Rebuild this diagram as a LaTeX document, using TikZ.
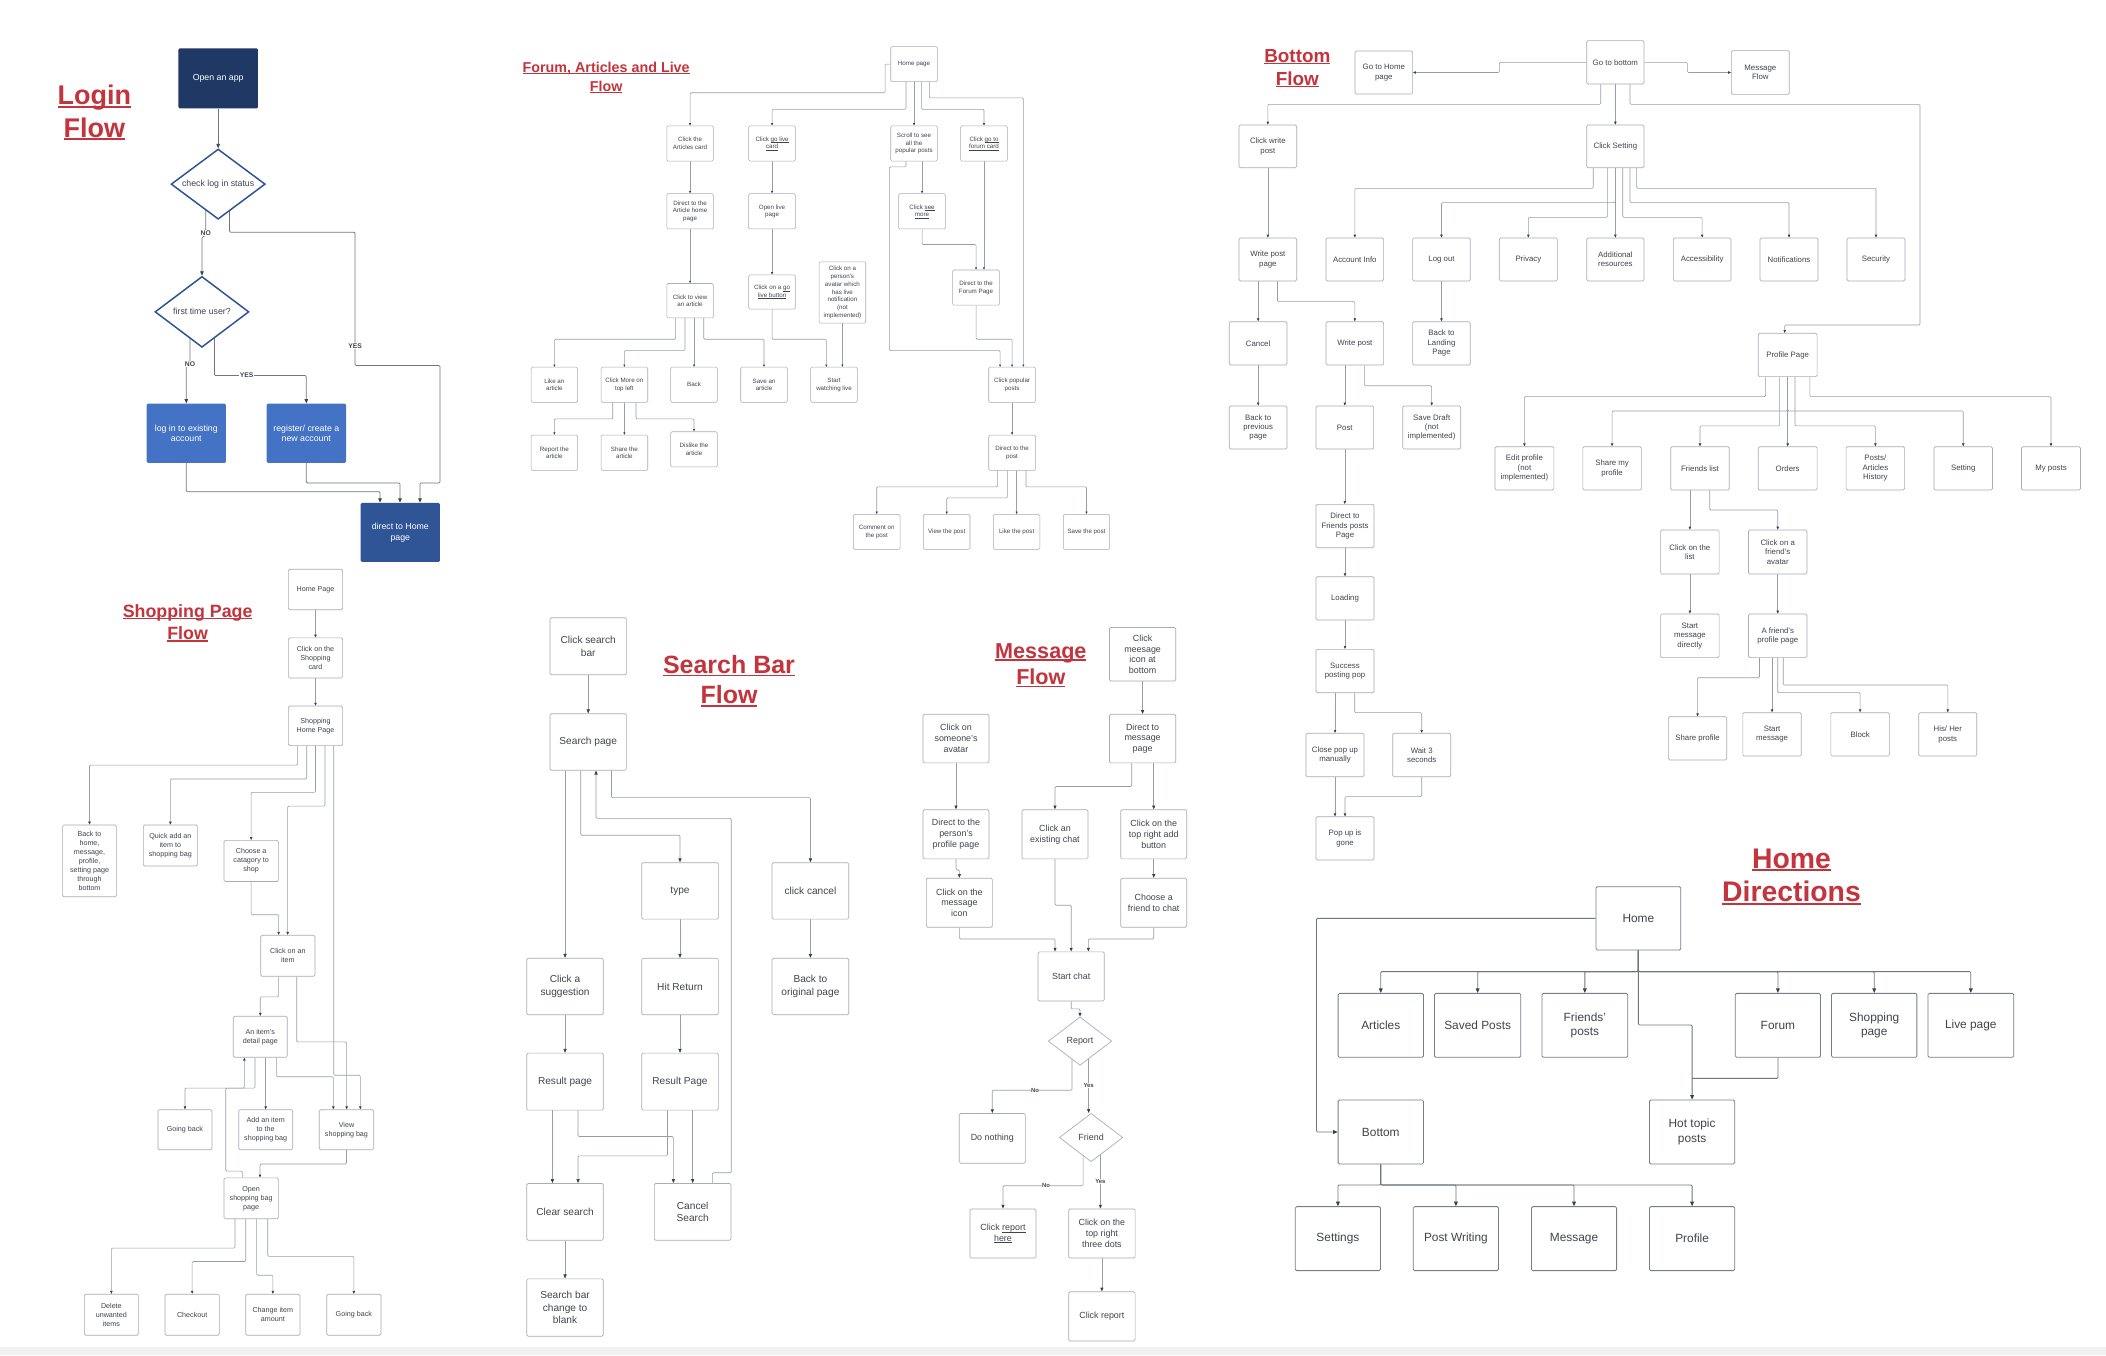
\documentclass[tikz,border=0pt]{standalone}
\usepackage{fontspec}
\setmainfont{Liberation Sans}
\usetikzlibrary{arrows.meta,shapes.geometric}
\pgfdeclarelayer{bg}
\pgfsetlayers{bg,main}
\definecolor{ttlc}{RGB}{196,52,60}
\definecolor{ln}{RGB}{152,158,168}
\definecolor{lnd}{RGB}{112,118,128}
\definecolor{bd}{RGB}{168,172,180}
\definecolor{hbd}{RGB}{120,126,136}
\definecolor{tx}{RGB}{64,68,76}
\definecolor{tipc}{RGB}{58,64,74}
\definecolor{navy}{RGB}{31,56,100}
\definecolor{mblue}{RGB}{68,114,196}
\definecolor{dblue}{RGB}{47,85,151}
\definecolor{dia}{RGB}{46,84,150}
\definecolor{strip}{RGB}{241,241,241}
\newcommand\tul[3]{\setbox0=\hbox{#3}\rlap{\rule[-#1]{\wd0}{#2}}\box0}
\newcommand\sul[1]{\tul{0.9pt}{0.3pt}{#1}}
\newcommand\BX[7]{\node[#1,minimum width={#5-#3},minimum height={#6-#4}] (#2) at ({(#3+#5)/2},{(#4+#6)/2}) {#7};}
\tikzset{
  bx/.style={draw=bd, fill=white, rounded corners=1pt, line width=0.5pt, inner sep=0pt, align=center, text=tx},
  fbx/.style={bx, line width=0.4pt, font=\fontsize{4.6}{5.7}\selectfont},
  bbx/.style={bx, font=\fontsize{5.8}{7}\selectfont},
  sbx/.style={bx, font=\fontsize{5.3}{6.6}\selectfont},
  qbx/.style={bx, font=\fontsize{7.5}{9.3}\selectfont},
  mbx/.style={bx, font=\fontsize{6.6}{8}\selectfont},
  hbx/.style={bx, draw=hbd, line width=0.6pt, font=\fontsize{8.8}{10.6}\selectfont},
  lbx/.style={rounded corners=1pt, inner sep=0pt, align=center, text=white, font=\fontsize{6.5}{8}\selectfont},
  ttl/.style={text=ttlc, align=center, inner sep=0pt},
  lab/.style={fill=white, inner sep=0.5pt, text=tx, font=\bfseries\fontsize{5}{6}\selectfont},
  mlab/.style={fill=white, inner sep=0.3pt, text=tx, font=\bfseries\fontsize{4.4}{5}\selectfont},
  cn/.style={draw=ln, line width=0.45pt, rounded corners=0.8pt},
  fa/.style={cn, -{Triangle[length=1.8pt,width=1.5pt,color=tipc]}},
  ba/.style={cn, -{Triangle[length=2.2pt,width=1.8pt,color=tipc]}},
  sa/.style={cn, -{Triangle[length=2.2pt,width=1.8pt,color=tipc]}},
  qa/.style={cn, line width=0.5pt, -{Triangle[length=3pt,width=2.4pt,color=tipc]}},
  ma/.style={cn, line width=0.5pt, -{Triangle[length=2.8pt,width=2.2pt,color=tipc]}},
  ha/.style={cn, draw=lnd, line width=0.6pt, -{Triangle[length=3.4pt,width=2.8pt,color=tipc]}},
  hl/.style={cn, draw=lnd, line width=0.6pt},
  la/.style={cn, draw=lnd, line width=0.55pt, -{Triangle[length=3.2pt,width=2.6pt,color=tipc]}},
}
\begin{document}
\begin{tikzpicture}[x=1pt,y=-1pt]
\useasboundingbox (0,0) rectangle (1560,1004);
\begin{pgfonlayer}{bg}
\fill[white] (0,0) rectangle (1560,1004);
\fill[strip] (0,998) rectangle (1560,1004);
\end{pgfonlayer}

% ---------------- titles
\node[ttl,font=\bfseries\fontsize{20}{24}\selectfont] (tlogin) at (69.9,83.5) {\tul{2.2pt}{1.5pt}{Login}\\\tul{2.2pt}{1.5pt}{Flow}};
\node[ttl,font=\bfseries\fontsize{10.6}{14}\selectfont] (tforum) at (449,57.4) {\tul{1.3pt}{0.8pt}{Forum, Articles and Live}\\\tul{1.3pt}{0.8pt}{Flow}};
\node[ttl,font=\bfseries\fontsize{14}{17}\selectfont] (tbottom) at (961,50.6) {\tul{1.6pt}{1pt}{Bottom}\\\tul{1.6pt}{1pt}{Flow}};
\node[ttl,font=\bfseries\fontsize{13.2}{16.5}\selectfont] (tshop) at (139,461.4) {\tul{1.5pt}{1pt}{Shopping Page}\\\tul{1.5pt}{1pt}{Flow}};
\node[ttl,font=\bfseries\fontsize{18.5}{22.5}\selectfont] (tsearch) at (540,504.5) {\tul{2pt}{1.3pt}{Search Bar}\\\tul{2pt}{1.3pt}{Flow}};
\node[ttl,font=\bfseries\fontsize{16}{19.6}\selectfont] (tmsg) at (771,492.8) {\tul{1.8pt}{1.2pt}{Message}\\\tul{1.8pt}{1.2pt}{Flow}};
\node[ttl,font=\bfseries\fontsize{21}{24.7}\selectfont] (thome) at (1327,649.4) {\tul{2.3pt}{1.5pt}{Home}\\\tul{2.3pt}{1.5pt}{Directions}};

% ---------------- login flow
\BX{lbx,fill=navy}{lopen}{132.1}{35.8}{191.1}{80.3}{Open an app}
\node[diamond, draw=dia, line width=1.1pt, fill=white, minimum width=69.8pt, minimum height=52pt, inner sep=0pt, aspect=1.34, text=tx, font=\fontsize{6.5}{8}\selectfont] (chk) at (161.6,136.4) {check log in status};
\node[diamond, draw=dia, line width=1.1pt, fill=white, minimum width=69.6pt, minimum height=52.5pt, inner sep=0pt, aspect=1.33, text=tx, font=\fontsize{6.5}{8}\selectfont] (ft) at (149.6,231) {first time user?};
\BX{lbx,fill=mblue}{llog}{108.6}{299}{167.4}{342.9}{log in to existing\\account}
\BX{lbx,fill=mblue}{lreg}{197.5}{299}{256.3}{342.9}{register/ create a\\new account}
\BX{lbx,fill=dblue}{lhome}{267.2}{372.5}{325.9}{416.2}{direct to Home\\page}
\node[lab] (no1) at (152.4,172.8) {NO};
\node[lab] (no2) at (140.7,269.4) {NO};
\node[lab] (yes1) at (263,256.4) {YES};
\node[lab] (yes2) at (182.7,278.2) {YES};

% ---------------- forum flow
\BX{fbx}{fhome}{659.8}{34.5}{694.3}{60.5}{Home page}
\BX{fbx}{fart}{493.9}{93.2}{528.4}{119.3}{Click the\\Articles card}
\BX{fbx}{flive}{554.6}{93.2}{589.2}{119.3}{Click \sul{go live}\\\sul{card}}
\BX{fbx}{fscroll}{659.8}{93.2}{694.3}{119.3}{Scroll to see\\all the\\popular posts}
\BX{fbx}{fforum}{711.6}{93.2}{746.2}{119.3}{Click \sul{go to}\\\sul{forum card}}
\BX{fbx}{fahome}{493.9}{143.5}{528.4}{169.6}{Direct to the\\Article home\\page}
\BX{fbx}{fopen}{554.6}{143.5}{589.2}{169.6}{Open live\\page}
\BX{fbx}{fsee}{665.7}{143.5}{700.3}{169.6}{Click \sul{see}\\\sul{more}}
\BX{fbx}{fview}{493.9}{210}{528.4}{235.5}{Click to view\\an article}
\BX{fbx}{fgolive}{554.6}{203.6}{589.2}{229}{Click on a \sul{go}\\\sul{live button}}
\BX{fbx}{favatar}{606.7}{193.9}{641.3}{239.3}{Click on a\\person's\\avatar which\\has live\\notification\\(not\\implemented)}
\BX{fbx}{fdforum}{705.7}{200}{740.3}{226}{Direct to the\\Forum Page}
\BX{fbx}{flike}{393.4}{272}{427.9}{298}{Like an\\article}
\BX{fbx}{fmore}{445.2}{272}{479.8}{298}{Click More on\\top left}
\BX{fbx}{fback}{496.8}{272}{531.4}{298}{Back}
\BX{fbx}{fsave}{548.7}{272}{583.2}{298}{Save an\\article}
\BX{fbx}{fwatch}{600.5}{272}{635.1}{298}{Start\\watching live}
\BX{fbx}{fpop}{732.4}{272}{767}{298}{Click popular\\posts}
\BX{fbx}{freport}{393.4}{322.3}{427.9}{348.4}{Report the\\article}
\BX{fbx}{fshare}{445.2}{322.3}{479.8}{348.4}{Share the\\article}
\BX{fbx}{fdislike}{496.8}{319.8}{531.4}{345.8}{Dislike the\\article}
\BX{fbx}{fpost}{732.4}{322.3}{767}{348.4}{Direct to the\\post}
\BX{fbx}{fcomm}{632.1}{381}{666.7}{407}{Comment on\\the post}
\BX{fbx}{fvpost}{684}{381}{718.5}{407}{View the post}
\BX{fbx}{flpost}{735.8}{381}{770.3}{407}{Like the post}
\BX{fbx}{fspost}{787.6}{381}{822}{407}{Save the post}

% ---------------- bottom flow
\BX{bbx}{bhome}{1003.7}{37.8}{1046.4}{69.6}{Go to Home\\page}
\BX{bbx}{bbot}{1175.3}{30.1}{1217.8}{62.2}{Go to bottom}
\BX{bbx}{bmsg}{1282.5}{37.5}{1325.4}{69.9}{Message\\Flow}
\BX{bbx}{bwrite}{917.8}{92.6}{960.5}{124.2}{Click write\\post}
\BX{bbx}{bset}{1175.3}{92.6}{1217.8}{124.2}{Click Setting}
\BX{bbx}{bwpp}{917.8}{176.3}{960.5}{208.1}{Write post\\page}
\BX{bbx}{bacc}{982.2}{176.3}{1024.9}{208.1}{Account Info}
\BX{bbx}{blog}{1046.4}{176.3}{1089.1}{208.1}{Log out}
\BX{bbx}{bpriv}{1110.6}{176.3}{1153.6}{208.1}{Privacy}
\BX{bbx}{badd}{1175.3}{176.3}{1217.8}{208.1}{Additional\\resources}
\BX{bbx}{bacs}{1239.5}{176.3}{1282.2}{208.1}{Accessibility}
\BX{bbx}{bnot}{1303.7}{176.3}{1346.7}{208.1}{Notifications}
\BX{bbx}{bsec}{1368.1}{176.3}{1411.1}{208.1}{Security}
\BX{bbx}{bcan}{910.6}{238.3}{953.3}{270.4}{Cancel}
\BX{bbx}{bwp}{982.2}{238.3}{1024.9}{270.4}{Write post}
\BX{bbx}{bland}{1046.4}{238.3}{1089.1}{270.4}{Back to\\Landing\\Page}
\BX{bbx}{bprev}{910.6}{300.7}{953.3}{332.6}{Back to\\previous\\page}
\BX{bbx}{bpost}{974.8}{300.7}{1017.5}{332.6}{Post}
\BX{bbx}{bdraft}{1039}{300.7}{1082}{332.6}{Save Draft\\(not\\implemented)}
\BX{bbx}{bdir}{974.8}{373.6}{1017.8}{405.7}{Direct to\\Friends posts\\Page}
\BX{bbx}{bload}{974.8}{427.2}{1017.8}{459.3}{Loading}
\BX{bbx}{bsucc}{974.8}{481}{1017.8}{513.1}{Success\\posting pop}
\BX{bbx}{bclose}{967.4}{543.2}{1010.4}{575.3}{Close pop up\\manually}
\BX{bbx}{bwait}{1031.6}{543.2}{1074.6}{575.3}{Wait 3\\seconds}
\BX{bbx}{bgone}{974.8}{605}{1017.8}{637}{Pop up is\\gone}
\BX{bbx}{bprof}{1302.4}{246.9}{1346}{279}{Profile Page}
\BX{bbx}{pedit}{1107.4}{330.9}{1151}{362.9}{Edit profile\\(not\\implemented)}
\BX{bbx}{pshare}{1172.5}{330.9}{1215.8}{362.9}{Share my\\profile}
\BX{bbx}{pfr}{1237.6}{330.9}{1280.9}{362.9}{Friends list}
\BX{bbx}{pord}{1302.4}{330.9}{1346}{362.9}{Orders}
\BX{bbx}{phist}{1367.5}{330.9}{1410.8}{362.9}{Posts/\\Articles\\History}
\BX{bbx}{pset}{1432.6}{330.9}{1475.9}{362.9}{Setting}
\BX{bbx}{pmy}{1497.4}{330.9}{1541.1}{362.9}{My posts}
\BX{bbx}{plist}{1230.1}{392.6}{1273.4}{425.2}{Click on the\\list}
\BX{bbx}{pav}{1295.2}{392.6}{1338.5}{425.2}{Click on a\\friend's\\avatar}
\BX{bbx}{pstart}{1230.1}{454.8}{1273.4}{487.1}{Start\\message\\directly}
\BX{bbx}{pfp}{1295.2}{454.8}{1338.5}{487.1}{A friend's\\profile page}
\BX{bbx}{psp}{1235.8}{530.9}{1279.1}{562.9}{Share profile}
\BX{bbx}{psm}{1291}{527.9}{1334.3}{560}{Start\\message}
\BX{bbx}{pblock}{1356.2}{527.9}{1399.5}{560}{Block}
\BX{bbx}{phis}{1421.3}{527.9}{1464.3}{560}{His/ Her\\posts}

% ---------------- shopping flow
\BX{sbx}{shome}{213.6}{421.6}{253.8}{451.6}{Home Page}
\BX{sbx}{scard}{213.6}{472.5}{253.8}{502.2}{Click on the\\Shopping\\card}
\BX{sbx}{shp}{213.6}{523}{253.8}{552.3}{Shopping\\Home Page}
\BX{sbx}{sback}{46.4}{611.1}{86.2}{664.3}{Back to\\home,\\message,\\profile,\\setting page\\through\\bottom}
\BX{sbx}{squick}{106.2}{611.1}{146.2}{641.5}{Quick add an\\item to\\shopping bag}
\BX{sbx}{schoose}{165.9}{622.5}{206.2}{653}{Choose a\\catagory to\\shop}
\BX{sbx}{sitem}{193.1}{692.8}{233.3}{723.2}{Click on an\\item}
\BX{sbx}{sdetail}{172.8}{752.8}{212.8}{783.2}{An item's\\detail page}
\BX{sbx}{sgoing}{117}{822}{157}{851.6}{Going back}
\BX{sbx}{sadd}{176.8}{822}{216.8}{851.6}{Add an item\\to the\\shopping bag}
\BX{sbx}{sview}{236.5}{822}{276.8}{851.6}{View\\shopping bag}
\BX{sbx}{sopen}{165.9}{872.5}{206.2}{902.8}{Open\\shopping bag\\page}
\BX{sbx}{sdel}{62.5}{958.7}{102.5}{989}{Delete\\unwanted\\items}
\BX{sbx}{scheck}{122.2}{958.7}{162.5}{989}{Checkout}
\BX{sbx}{schange}{182}{958.7}{222.2}{989}{Change item\\amount}
\BX{sbx}{sgoing2}{242}{958.7}{282.2}{989}{Going back}

% ---------------- search flow
\BX{qbx}{qclick}{407.4}{457.6}{464}{499.8}{Click search\\bar}
\BX{qbx}{qpage}{407.4}{528.7}{464}{570.5}{Search page}
\BX{qbx}{qtype}{475.3}{639}{532.1}{680.8}{type}
\BX{qbx}{qcancel}{571.9}{639}{628.7}{680.8}{click cancel}
\BX{qbx}{qsugg}{390.2}{709.8}{446.9}{751.6}{Click a\\suggestion}
\BX{qbx}{qret}{475.3}{709.8}{532.1}{751.6}{Hit Return}
\BX{qbx}{qorig}{571.9}{709.8}{628.7}{751.6}{Back to\\original page}
\BX{qbx}{qres1}{390.2}{780.1}{446.9}{822.3}{Result page}
\BX{qbx}{qres2}{475.3}{780.1}{532.1}{822.3}{Result Page}
\BX{qbx}{qclear}{390.2}{876.6}{446.9}{918.7}{Clear search}
\BX{qbx}{qcs}{484.7}{876.6}{541.5}{918.7}{Cancel\\Search}
\BX{qbx}{qblank}{390.2}{947.3}{446.9}{989.8}{Search bar\\change to\\blank}

% ---------------- message flow
\BX{mbx}{mclick}{821.8}{464.8}{870.9}{504.4}{Click\\meesage\\icon at\\bottom}
\BX{mbx}{mavatar}{683.7}{529.1}{732.6}{565.1}{Click on\\someone's\\avatar}
\BX{mbx}{mdir}{821.8}{529.1}{870.9}{565.1}{Direct to\\message\\page}
\BX{mbx}{mprof}{683.7}{599.8}{732.6}{636.2}{Direct to the\\person's\\profile page}
\BX{mbx}{mexist}{757}{599.8}{805.9}{636.2}{Click an\\existing chat}
\BX{mbx}{madd}{830.2}{599.8}{879}{636.2}{Click on the\\top right add\\button}
\BX{mbx}{micon}{686.2}{650.5}{735.1}{686.9}{Click on the\\message\\icon}
\BX{mbx}{mchoose}{830.2}{650.5}{879}{686.9}{Choose a\\friend to chat}
\BX{mbx}{mstart}{768.9}{705.1}{818}{741.5}{Start chat}
\node[diamond, draw=bd, line width=0.5pt, fill=white, minimum width=47pt, minimum height=35.8pt, inner sep=0pt, aspect=1.31, text=tx, font=\fontsize{6.6}{8}\selectfont] (mreport) at (800,771.2) {Report};
\BX{mbx}{mnothing}{710.6}{824.8}{759.5}{861.6}{Do nothing}
\node[diamond, draw=bd, line width=0.5pt, fill=white, minimum width=47pt, minimum height=35.8pt, inner sep=0pt, aspect=1.31, text=tx, font=\fontsize{6.6}{8}\selectfont] (mfriend) at (808.2,842.6) {Friend};
\BX{mbx}{mhere}{718.5}{895.5}{767.4}{931.9}{Click \tul{1.1pt}{0.35pt}{report}\\\tul{1.1pt}{0.35pt}{here}}
\BX{mbx}{mdots}{791.6}{895.5}{840.8}{931.9}{Click on the\\top right\\three dots}
\BX{mbx}{mrep}{791.6}{956.9}{840.8}{993.3}{Click report}
\node[mlab] (mno1) at (766.7,807.6) {No};
\node[mlab] (myes1) at (806.4,804.4) {Yes};
\node[mlab] (mno2) at (774.8,878.3) {No};
\node[mlab] (myes2) at (815.1,875.1) {Yes};

% ---------------- home directions
\BX{hbx}{hhome}{1182.2}{656.8}{1245}{703.7}{Home}
\BX{hbx}{hart}{991.2}{735.8}{1054.4}{783.2}{Articles}
\BX{hbx}{hsaved}{1062.6}{735.8}{1126.5}{783.2}{Saved Posts}
\BX{hbx}{hfr}{1142.2}{735.8}{1205.7}{783.2}{Friends'\\posts}
\BX{hbx}{hforum}{1285.4}{735.8}{1348.5}{783.2}{Forum}
\BX{hbx}{hshop}{1356.7}{735.8}{1419.9}{783.2}{Shopping\\page}
\BX{hbx}{hlive}{1428.1}{735.8}{1491.6}{783.2}{Live page}
\BX{hbx}{hbot}{991.2}{814.8}{1054.4}{862.2}{Bottom}
\BX{hbx}{hhot}{1221.8}{814.8}{1285}{862.2}{Hot topic\\posts}
\BX{hbx}{hset}{959.5}{893.8}{1022.6}{941.2}{Settings}
\BX{hbx}{hpw}{1046.9}{893.8}{1110}{941.2}{Post Writing}
\BX{hbx}{hmsg}{1134.4}{893.8}{1197.5}{941.2}{Message}
\BX{hbx}{hprof}{1221.8}{893.8}{1285}{941.2}{Profile}

% ================= connectors
\begin{pgfonlayer}{bg}
% login
\draw[la] (lopen.south) -- (chk.north);
\draw[la] (152.4,0 |- chk.center) -- (152.4,174) -- (ft.north |- 0,176) -- (ft.north);
\draw[la] (170,0 |- chk.center) |- (263,172) |- (325.9,270.7) |- (311.1,357.7) -- (311.1,0 |- lhome.north);
\draw[la] (140.7,0 |- ft.center) -- (140.7,268) -- (llog.north |- 0,271) -- (llog.north);
\draw[la] (158.8,0 |- ft.center) |- (lreg.north |- 0,278.2) -- (lreg.north);
\draw[la] (llog.south) |- (281.5,364.2) -- (281.5,0 |- lhome.north);
\draw[la] (lreg.south) |- (296.3,357.7) -- (296.3,0 |- lhome.north);
% forum
\draw[fa] (fhome.west) -- (655.6,0 |- fhome.west) |- (fart.north |- 0,68.7) -- (fart.north);
\draw[fa] (671.1,0 |- fhome.south) |- (flive.north |- 0,81) -- (flive.north);
\draw[fa] (fhome.south) -- (fscroll.north);
\draw[fa] (682.7,0 |- fhome.south) |- (fforum.north |- 0,81) -- (fforum.north);
\draw[fa] (688.4,0 |- fhome.south) |- (758,72.5) -- (758,0 |- fpop.north);
\draw[fa] (fart.south) -- (fahome.north);
\draw[fa] (fahome.south) -- (fview.north);
\draw[fa] (flive.south) -- (fopen.north);
\draw[fa] (fopen.south) -- (fgolive.north);
\draw[fa] (500.5,0 |- fview.south) |- (flike.north |- 0,251.3) -- (flike.north);
\draw[fa] (507.4,0 |- fview.south) |- (fmore.north |- 0,259.7) -- (fmore.north);
\draw[fa] (fback.north |- fview.south) -- (fback.north);
\draw[fa] (521.3,0 |- fview.south) |- (fsave.north |- 0,251.3) -- (fsave.north);
\draw[fa] (fgolive.south) |- (612.1,251.3) -- (612.1,0 |- fwatch.north);
\draw[fa] (favatar.south) -- (favatar.south |- fwatch.north);
\draw[fa] (453.9,0 |- fmore.south) |- (freport.north |- 0,310.3) -- (freport.north);
\draw[fa] (fmore.south) -- (fshare.north);
\draw[fa] (471.1,0 |- fmore.south) |- (fdislike.north |- 0,310.3) -- (fdislike.north);
\draw[fa] (671.1,0 |- fscroll.south) |- (658.8,123.6) |- (740.8,259.7) -- (740.8,0 |- fpop.north);
\draw[fa] (fsee.north |- fscroll.south) -- (fsee.north);
\draw[fa] (fsee.south) |- (fdforum.north |- 0,181.1) -- (fdforum.north);
\draw[fa] (fforum.south) -- (fforum.south |- fdforum.north);
\draw[fa] (fdforum.south) |- (fpop.north |- 0,251.3) -- (fpop.north);
\draw[fa] (fpop.south) -- (fpost.north);
\draw[fa] (739,0 |- fpost.south) |- (fcomm.north |- 0,360.6) -- (fcomm.north);
\draw[fa] (746.2,0 |- fpost.south) |- (fvpost.north |- 0,368.8) -- (fvpost.north);
\draw[fa] (flpost.north |- fpost.south) -- (flpost.north);
\draw[fa] (760,0 |- fpost.south) |- (fspost.north |- 0,360.6) -- (fspost.north);
% bottom
\draw[ba] (bbot.west) -| (1110.6,0 |- bhome.east) -- (bhome.east);
\draw[ba] (bbot.east) -| (1249.9,0 |- bmsg.west) -- (bmsg.west);
\draw[ba] (1185.7,0 |- bbot.south) |- (bwrite.north |- 0,77.3) -- (bwrite.north);
\draw[ba] (bbot.south) -- (bset.north);
\draw[ba] (1207.4,0 |- bbot.south) |- (1422.2,77.3) |- (1322,240.7) -- (1322,0 |- bprof.north);
\draw[ba] (1180.2,0 |- bset.south) |- (bacc.north |- 0,139.5) -- (bacc.north);
\draw[ba] (bset.south) |- (blog.north |- 0,150.1) -- (blog.north);
\draw[ba] (1190.6,0 |- bset.south) |- (bpriv.north |- 0,161) -- (bpriv.north);
\draw[ba] (bset.south) -- (badd.north);
\draw[ba] (1202,0 |- bset.south) |- (bacs.north |- 0,161) -- (bacs.north);
\draw[ba] (1207.4,0 |- bset.south) |- (bnot.north |- 0,150.1) -- (bnot.north);
\draw[ba] (1212.3,0 |- bset.south) |- (bsec.north |- 0,139.5) -- (bsec.north);
\draw[ba] (bwrite.south) -- (bwpp.north);
\draw[ba] (bcan.north |- bwpp.south) -- (bcan.north);
\draw[ba] (946.3,0 |- bwpp.south) |- (bwp.north |- 0,223.4) -- (bwp.north);
\draw[ba] (blog.south) -- (bland.north);
\draw[ba] (bcan.south) -- (bprev.north);
\draw[ba] (bpost.north |- bwp.south) -- (bpost.north);
\draw[ba] (1010.6,0 |- bwp.south) |- (bdraft.north |- 0,285.7) -- (bdraft.north);
\draw[ba] (bpost.south) -- (bpost.south |- bdir.north);
\draw[ba] (bdir.south) -- (bload.north);
\draw[ba] (bload.south) -- (bsucc.north);
\draw[ba] (bclose.north |- bsucc.south) -- (bclose.north);
\draw[ba] (1003.5,0 |- bsucc.south) |- (bwait.north |- 0,527.9) -- (bwait.north);
\draw[ba] (bclose.south) -- (bclose.south |- bgone.north);
\draw[ba] (bwait.south) |- (bgone.north |- 0,590.1) -- (bgone.north);
\draw[ba] (1307.8,0 |- bprof.south) |- (pedit.north |- 0,293.8) -- (pedit.north);
\draw[ba] (bprof.south) |- (pshare.north |- 0,304.4) -- (pshare.north);
\draw[ba] (bprof.south) |- (pset.north |- 0,304.4) -- (pset.north);
\draw[ba] (bprof.south) -- (pord.north);
\draw[ba] (1318.2,0 |- bprof.south) |- (pfr.north |- 0,315.5) -- (pfr.north);
\draw[ba] (1329.6,0 |- bprof.south) |- (phist.north |- 0,315.5) -- (phist.north);
\draw[ba] (1340.6,0 |- bprof.south) |- (pmy.north |- 0,293.8) -- (pmy.north);
\draw[ba] (plist.north |- pfr.south) -- (plist.north);
\draw[ba] (1266.5,0 |- pfr.south) |- (pav.north |- 0,377.8) -- (pav.north);
\draw[ba] (plist.south) -- (pstart.north);
\draw[ba] (pav.south) -- (pfp.north);
\draw[ba] (1303.3,0 |- pfp.south) |- (psp.north |- 0,502) -- (psp.north);
\draw[ba] (psm.north |- pfp.south) -- (psm.north);
\draw[ba] (pfp.south) |- (pblock.north |- 0,513.1) -- (pblock.north);
\draw[ba] (1320.9,0 |- pfp.south) |- (phis.north |- 0,507.4) -- (phis.north);
% shopping
\draw[sa] (shome.south) -- (scard.north);
\draw[sa] (scard.south) -- (shp.north);
\draw[sa] (220.5,0 |- shp.south) |- (sback.north |- 0,566.7) -- (sback.north);
\draw[sa] (227.2,0 |- shp.south) |- (squick.north |- 0,577) -- (squick.north);
\draw[sa] (shp.south) |- (schoose.north |- 0,586.9) -- (schoose.north);
\draw[sa] (240.7,0 |- shp.south) |- (213.1,597.1) -- (213.1,0 |- sitem.north);
\draw[sa] (247.2,0 |- shp.south) |- (266.9,796.5) -- (266.9,0 |- sview.north);
\draw[sa] (schoose.south) |- (206.4,677.6) -- (206.4,0 |- sitem.north);
\draw[sa] (206.4,0 |- sitem.south) |- (sdetail.north |- 0,738.4) -- (sdetail.north);
\draw[sa] (219.8,0 |- sitem.south) |- (256.8,771.8) -- (256.8,0 |- sview.north);
\draw[sa] (188.9,0 |- sdetail.south) |- (sgoing.north |- 0,806) -- (sgoing.north);
\draw[sa] (sadd.north |- sdetail.south) -- (sadd.north);
\draw[sa] (204.9,0 |- sdetail.south) |- (246.9,797.6) -- (246.9,0 |- sview.north);
\draw[sa] (sview.south) |- (192.6,862.2) -- (192.6,0 |- sopen.north);
\draw[sa] (179.5,0 |- sopen.north) |- (167.2,867.5) |- (181,806) -- (181,0 |- sdetail.south);
\draw[sa] (174.1,0 |- sopen.south) |- (sdel.north |- 0,924.5) -- (sdel.north);
\draw[sa] (182,0 |- sopen.south) |- (scheck.north |- 0,934.4) -- (scheck.north);
\draw[sa] (190.1,0 |- sopen.south) |- (schange.north |- 0,944.6) -- (schange.north);
\draw[sa] (198.3,0 |- sopen.south) |- (sgoing2.north |- 0,930.6) -- (sgoing2.north);
% search
\draw[qa] (qclick.south) -- (qpage.north);
\draw[qa] (qsugg.north |- qpage.south) -- (qsugg.north);
\draw[qa] (430.2,0 |- qpage.south) |- (qtype.north |- 0,618.7) -- (qtype.north);
\draw[qa] (452.9,0 |- qpage.south) |- (qcancel.north |- 0,590.8) -- (qcancel.north);
\draw[qa] (527.7,0 |- qcs.north) |- (541.7,868.7) |- (441.5,606.2) -- (441.5,0 |- qpage.south);
\draw[qa] (qtype.south) -- (qret.north);
\draw[qa] (qret.south) -- (qres2.north);
\draw[qa] (qcancel.south) -- (qorig.north);
\draw[qa] (qsugg.south) -- (qres1.north);
\draw[qa] (409.2,0 |- qres1.south) -- (409.2,0 |- qclear.north);
\draw[qa] (428.2,0 |- qres1.south) |- (498.8,841.9) -- (498.8,0 |- qcs.north);
\draw[qa] (494.4,0 |- qres2.south) |- (428.2,856.2) -- (428.2,0 |- qclear.north);
\draw[qa] (513.1,0 |- qres2.south) -- (513.1,0 |- qcs.north);
\draw[qa] (qclear.south) -- (qblank.north);
% message
\draw[ma] (mclick.south) -- (mdir.north);
\draw[ma] (mavatar.south) -- (mprof.north);
\draw[ma] (mprof.south) |- (micon.north |- 0,644.4) -- (micon.north);
\draw[ma] (838.3,0 |- mdir.south) |- (mexist.north |- 0,582.6) -- (mexist.north);
\draw[ma] (madd.north |- mdir.south) -- (madd.north);
\draw[ma] (madd.south) -- (mchoose.north);
\draw[ma] (micon.south) |- (781.5,695.5) -- (781.5,0 |- mstart.north);
\draw[ma] (mexist.south) |- (mstart.north |- 0,670.5) -- (mstart.north);
\draw[ma] (mchoose.south) |- (806.2,695.5) -- (806.2,0 |- mstart.north);
\draw[ma] (mstart.south) |- (mreport.north |- 0,747.3) -- (mreport.north);
\draw[ma] (794.1,0 |- mreport.center) |- (mnothing.north |- 0,807.6) -- (mnothing.north);
\draw[ma] (806.4,0 |- mreport.center) -- (806.4,0 |- mfriend.north);
\draw[ma] (802.3,0 |- mfriend.center) |- (mhere.north |- 0,878.3) -- (mhere.north);
\draw[ma] (815.1,0 |- mfriend.center) -- (815.1,0 |- mdots.north);
\draw[ma] (mdots.south) -- (mrep.north);
% home directions
\draw[ha] (hhome.west) -| (975.2,0 |- hbot.west) -- (hbot.west);
\foreach \t in {hart,hsaved,hfr,hforum,hshop,hlive}
  \draw[ha] (hhome.south) |- (\t.north |- 0,719.7) -- (\t.north);
\draw[ha] (hhome.south) |- (hhot.north |- 0,759.3) -- (hhot.north);
\draw[hl] (hforum.south) |- (hhot.north |- 0,798.8);
\foreach \t in {hset,hpw,hmsg,hprof}
  \draw[ha] (hbot.south) |- (\t.north |- 0,877.8) -- (\t.north);
\end{pgfonlayer}
\end{tikzpicture}
\end{document}
